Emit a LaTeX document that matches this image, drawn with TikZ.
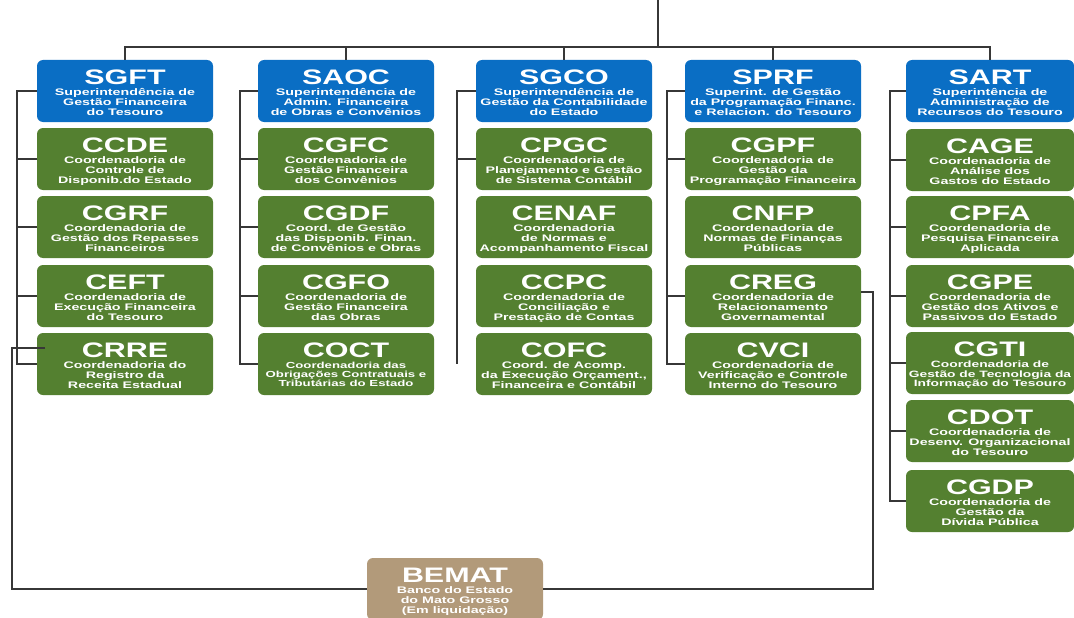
\documentclass[tikz,border=0pt]{standalone}
\usepackage{fontspec}
\usetikzlibrary{calc}
\newfontfamily\titlef[FakeStretch=1.45]{Liberation Sans}
\newfontfamily\subf[FakeStretch=1.5]{Liberation Sans}
\definecolor{sblue}{RGB}{10,110,196}
\definecolor{sgreen}{RGB}{84,128,48}
\definecolor{stan}{RGB}{178,154,122}
\definecolor{linec}{RGB}{55,55,55}
\newcommand\bw{176pt}
\newdimen\rowsp
\newcommand\orgtext[3][9.5]{%
  \vbox to 62pt{\offinterlineskip\hsize=\bw
    \rowsp=#1pt \advance\rowsp by 0.5pt
    \hbox to\hsize{\hss\vrule height24pt depth0pt width0pt\titlef\bfseries\fontsize{21}{21}\selectfont #2\hss}%
    \kern1.5pt
    \def\\{\cr}%
    \tabskip=0pt plus 1fil
    \halign to\hsize{\hss\vrule height\rowsp depth0pt width0pt\setbox0=\hbox\bgroup\subf\bfseries\fontsize{#1}{#1}\selectfont##\egroup\dp0=0pt\box0\hss\cr#3\cr}%
    \vss}}
\tikzset{
  orgbox/.style={rounded corners=6pt, inner sep=0pt, outer sep=0pt, text=white},
  supbox/.style={orgbox, fill=sblue},
  coordbox/.style={orgbox, fill=sgreen},
  bankbox/.style={orgbox, fill=stan},
  conn/.style={draw=linec, line width=1.4pt}
}
\begin{document}
\begin{tikzpicture}[x=1pt, y=-1pt]
\path[use as bounding box, fill=white] (0,0) rectangle (1074,618);
% column 1
\node[supbox] (SGFT) at (125,91) {\orgtext{SGFT}{Superintendência de\\Gestão Financeira\\do Tesouro}};
\node[coordbox] (CCDE) at (125,159) {\orgtext{CCDE}{Coordenadoria de\\Controle de\\Disponib.do Estado}};
\node[coordbox] (CGRF) at (125,227) {\orgtext{CGRF}{Coordenadoria de\\Gestão dos Repasses\\Financeiros}};
\node[coordbox] (CEFT) at (125,296) {\orgtext{CEFT}{Coordenadoria de\\Execução Financeira\\do Tesouro}};
\node[coordbox] (CRRE) at (125,364) {\orgtext{CRRE}{Coordenadoria do\\Registro da\\Receita Estadual}};
% column 2
\node[supbox] (SAOC) at (346,91) {\orgtext{SAOC}{Superintendência de\\Admin. Financeira\\de Obras e Convênios}};
\node[coordbox] (CGFC) at (346,159) {\orgtext{CGFC}{Coordenadoria de\\Gestão Financeira\\dos Convênios}};
\node[coordbox] (CGDF) at (346,227) {\orgtext{CGDF}{Coord. de Gestão\\das Disponib. Finan.\\de Convênios e Obras}};
\node[coordbox] (CGFO) at (346,296) {\orgtext{CGFO}{Coordenadoria de\\Gestão Financeira\\das Obras}};
\node[coordbox] (COCT) at (346,364) {\orgtext[8.8]{COCT}{Coordenadoria das\\Obrigações Contratuais e\\Tributárias do Estado}};
% column 3
\node[supbox] (SGCO) at (564,91) {\orgtext{SGCO}{Superintendência de\\Gestão da Contabilidade\\do Estado}};
\node[coordbox] (CPGC) at (564,159) {\orgtext{CPGC}{Coordenadoria de\\Planejamento e Gestão\\de Sistema Contábil}};
\node[coordbox] (CENAF) at (564,227) {\orgtext{CENAF}{Coordenadoria\\de Normas e\\Acompanhamento Fiscal}};
\node[coordbox] (CCPC) at (564,296) {\orgtext{CCPC}{Coordenadoria de\\Conciliação e\\Prestação de Contas}};
\node[coordbox] (COFC) at (564,364) {\orgtext{COFC}{Coord. de Acomp.\\da Execução Orçament.,\\Financeira e Contábil}};
% column 4
\node[supbox] (SPRF) at (773,91) {\orgtext{SPRF}{Superint. de Gestão\\da Programação Financ.\\e Relacion. do Tesouro}};
\node[coordbox] (CGPF) at (773,159) {\orgtext{CGPF}{Coordenadoria de\\Gestão da\\Programação Financeira}};
\node[coordbox] (CNFP) at (773,227) {\orgtext{CNFP}{Coordenadoria de\\Normas de Finanças\\Públicas}};
\node[coordbox] (CREG) at (773,296) {\orgtext{CREG}{Coordenadoria de\\Relacionamento\\Governamental}};
\node[coordbox] (CVCI) at (773,364) {\orgtext{CVCI}{Coordenadoria de\\Verificação e Controle\\Interno do Tesouro}};
% column 5
\renewcommand\bw{168pt}
\node[supbox] (SART) at (990,91) {\orgtext{SART}{Superintência de\\Administração de\\Recursos do Tesouro}};
\node[coordbox] (CAGE) at (990,160) {\orgtext{CAGE}{Coordenadoria de\\Análise dos\\Gastos do Estado}};
\node[coordbox] (CPFA) at (990,227) {\orgtext{CPFA}{Coordenadoria de\\Pesquisa Financeira\\Aplicada}};
\node[coordbox] (CGPE) at (990,296) {\orgtext{CGPE}{Coordenadoria de\\Gestão dos Ativos e\\Passivos do Estado}};
\node[coordbox] (CGTI) at (990,363) {\orgtext[9.2]{CGTI}{Coordenadoria de\\Gestão de Tecnologia da\\Informação do Tesouro}};
\node[coordbox] (CDOT) at (990,431) {\orgtext{CDOT}{Coordenadoria de\\Desenv. Organizacional\\do Tesouro}};
\node[coordbox] (CGDP) at (990,501) {\orgtext{CGDP}{Coordenadoria de\\Gestão da\\Dívida Pública}};
\renewcommand\bw{176pt}
% bank
\node[bankbox] (BEMAT) at (455,589) {\orgtext{BEMAT}{Banco do Estado\\do Mato Grosso\\(Em liquidação)}};
% top bus
\coordinate (top) at (658,0);
\coordinate (bus) at (658,47);
\draw[conn] (top) -- (bus);
\draw[conn] (SGFT.north) |- (bus) -| (SART.north);
\foreach \n in {SAOC,SGCO,SPRF} \draw[conn] (\n.north) -- (\n.north |- bus);
% brackets
\coordinate (b1) at (17,0);
\coordinate (b2) at (240,0);
\coordinate (b3) at (457,0);
\coordinate (b4) at (667,0);
\coordinate (b5) at (890,0);
\draw[conn] (SGFT.west) -- (SGFT.west -| b1) -- (CRRE.west -| b1) -- (CRRE.west);
\foreach \n in {CCDE,CGRF,CEFT} \draw[conn] (\n.west) -- (\n.west -| b1);
\draw[conn] (SAOC.west) -- (SAOC.west -| b2) -- (COCT.west -| b2) -- (COCT.west);
\foreach \n in {CGFC,CGDF,CGFO} \draw[conn] (\n.west) -- (\n.west -| b2);
\draw[conn] (SGCO.west) -- (SGCO.west -| b3) -- (COFC.west -| b3);
\draw[conn] (CPGC.west) -- (CPGC.west -| b3);
\draw[conn] (SPRF.west) -- (SPRF.west -| b4) -- (CVCI.west -| b4) -- (CVCI.west);
\foreach \n in {CGPF,CREG} \draw[conn] (\n.west) -- (\n.west -| b4);
\draw[conn] (SART.west) -- (SART.west -| b5) -- (CGDP.west -| b5) -- (CGDP.west);
\foreach \n in {CAGE,CPFA,CGPE,CGTI,CDOT} \draw[conn] (\n.west) -- (\n.west -| b5);
% BEMAT links
\coordinate (bl) at (12,348);
\draw[conn] ($(CRRE.west)+(8,-16)$) -- (bl) |- (BEMAT.west);
\draw[conn] ($(CREG.east)+(0,-4)$) -- ++(12,0) |- (BEMAT.east);
\end{tikzpicture}
\end{document}
